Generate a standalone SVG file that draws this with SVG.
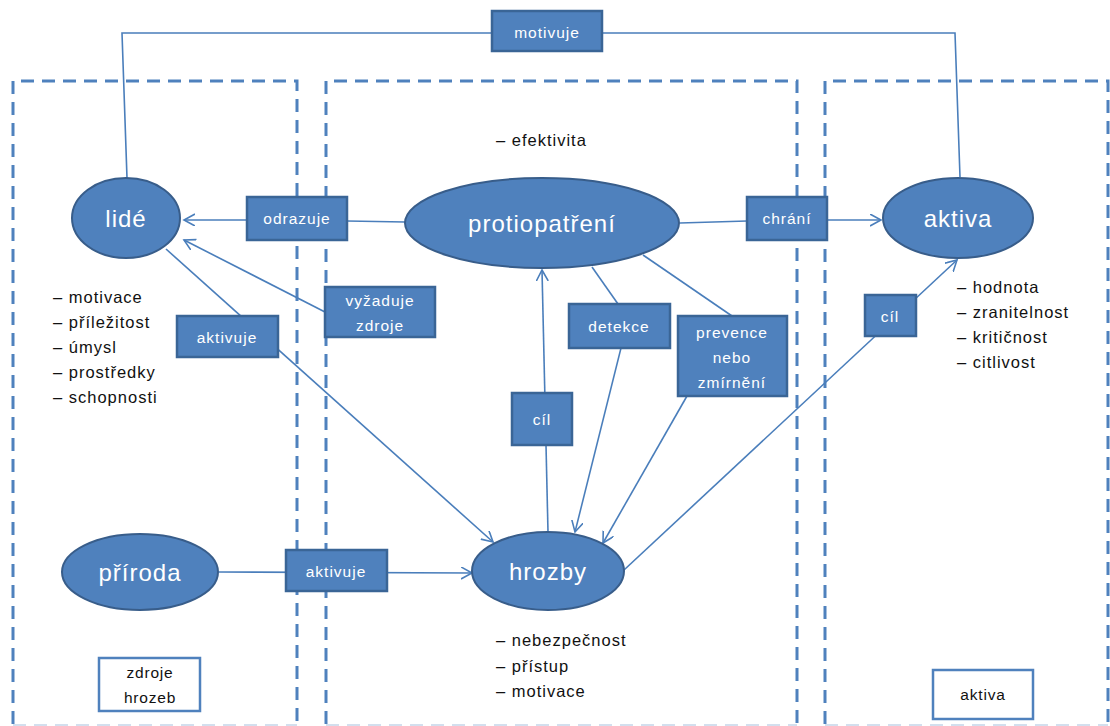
<svg xmlns="http://www.w3.org/2000/svg" width="1110" height="726" viewBox="0 0 1110 726">
<defs>
<style>
.zone{fill:none;stroke:#4f81bd;stroke-width:3;stroke-dasharray:13 8}
.zoneb{fill:none;stroke:#4f81bd;stroke-width:2;stroke-dasharray:13 8;opacity:0.25}
.node{fill:#4f81bd;stroke:#385d8a;stroke-width:2}
.lbl{fill:#4f81bd;stroke:#3a6596;stroke-width:2.5}
.wbox{fill:#fff;stroke:#4f81bd;stroke-width:2.5}
.big{font-family:"Liberation Sans",Arial,sans-serif;font-size:24px;fill:#fff;letter-spacing:1px;text-anchor:middle;dominant-baseline:central}
.lt{font-family:"Liberation Sans",Arial,sans-serif;font-size:15.5px;fill:#fff;letter-spacing:1px;text-anchor:middle;dominant-baseline:central}
.bt{font-family:"Liberation Sans",Arial,sans-serif;font-size:15.5px;fill:#111;letter-spacing:0.8px;text-anchor:middle;dominant-baseline:central}
.li{font-family:"Liberation Sans",Arial,sans-serif;font-size:16.5px;fill:#111;letter-spacing:1px;dominant-baseline:central}
.c{fill:none;stroke:#4a7ebb;stroke-width:1.6}
</style>
<marker id="ah" markerWidth="14" markerHeight="14" refX="11" refY="6" orient="auto" markerUnits="userSpaceOnUse">
<path d="M0,0 L11,6 L0,12" fill="none" stroke="#4a7ebb" stroke-width="1.6"/>
</marker>
</defs>

<g id="zones">
<path class="zone" d="M13,724 V81 H297 V724"/>
<path class="zone" d="M326,724 V81 H797 V724"/>
<path class="zone" d="M825,724 V81 H1108 V724"/>
<path class="zoneb" d="M13,725 H297 M326,725 H797 M825,725 H1108"/>
</g>

<g id="connectors">
<path class="c" d="M127,178 L122,33 L955,33 L960,177"/>
<path class="c" d="M405,222 L347,221"/>
<path class="c" d="M247,220 L184,220" marker-end="url(#ah)"/>
<path class="c" d="M325,312 L184,240" marker-end="url(#ah)"/>
<path class="c" d="M166,249 L493,542" marker-end="url(#ah)"/>
<path class="c" d="M548,532 L542,270" marker-end="url(#ah)"/>
<path class="c" d="M592,267 L618,304"/>
<path class="c" d="M621,348 L575,532" marker-end="url(#ah)"/>
<path class="c" d="M643,255 L732,316"/>
<path class="c" d="M687,396 L603,543" marker-end="url(#ah)"/>
<path class="c" d="M680,223 L747,221"/>
<path class="c" d="M827,220 L881,220" marker-end="url(#ah)"/>
<path class="c" d="M624,570 L957,260" marker-end="url(#ah)"/>
<path class="c" d="M219,572 L472,573" marker-end="url(#ah)"/>
</g>

<g id="lide">
<ellipse class="node" cx="126" cy="218" rx="54" ry="40"/>
<text class="big" x="126" y="218">lidé</text>
</g>
<g id="protiopatreni">
<ellipse class="node" cx="542" cy="223" rx="137" ry="45"/>
<text class="big" x="542" y="223">protiopatření</text>
</g>
<g id="aktiva">
<ellipse class="node" cx="958" cy="218" rx="75" ry="40"/>
<text class="big" x="958" y="218">aktiva</text>
</g>
<g id="priroda">
<ellipse class="node" cx="140" cy="572" rx="78" ry="38"/>
<text class="big" x="140" y="572">příroda</text>
</g>
<g id="hrozby">
<ellipse class="node" cx="548" cy="571" rx="76" ry="39"/>
<text class="big" x="548" y="571">hrozby</text>
</g>

<g id="lbl-motivuje">
<rect class="lbl" x="492" y="11" width="110" height="40"/>
<text class="lt" x="547" y="32">motivuje</text>
</g>
<g id="lbl-odrazuje">
<rect class="lbl" x="247" y="197" width="100" height="43"/>
<text class="lt" x="297" y="218">odrazuje</text>
</g>
<g id="lbl-vyzaduje">
<rect class="lbl" x="325" y="287" width="110" height="50"/>
<text class="lt" x="380" y="300">vyžaduje</text>
<text class="lt" x="380" y="325">zdroje</text>
</g>
<g id="lbl-aktivuje1">
<rect class="lbl" x="177" y="316" width="101" height="41"/>
<text class="lt" x="227" y="337">aktivuje</text>
</g>
<g id="lbl-chrani">
<rect class="lbl" x="747" y="197" width="80" height="43"/>
<text class="lt" x="787" y="218">chrání</text>
</g>
<g id="lbl-detekce">
<rect class="lbl" x="569" y="304" width="101" height="44"/>
<text class="lt" x="619" y="326">detekce</text>
</g>
<g id="lbl-prevence">
<rect class="lbl" x="678" y="316" width="109" height="80"/>
<text class="lt" x="732" y="332">prevence</text>
<text class="lt" x="732" y="357">nebo</text>
<text class="lt" x="732" y="382">zmírnění</text>
</g>
<g id="lbl-cil1">
<rect class="lbl" x="512" y="393" width="60" height="52"/>
<text class="lt" x="542" y="419">cíl</text>
</g>
<g id="lbl-cil2">
<rect class="lbl" x="865" y="295" width="51" height="41"/>
<text class="lt" x="890" y="316">cíl</text>
</g>
<g id="lbl-aktivuje2">
<rect class="lbl" x="286" y="550" width="101" height="41"/>
<text class="lt" x="336" y="571">aktivuje</text>
</g>

<g id="zdroje-hrozeb">
<rect class="wbox" x="99" y="658" width="101" height="53"/>
<text class="bt" x="150" y="672">zdroje</text>
<text class="bt" x="150" y="697">hrozeb</text>
</g>
<g id="aktiva-box">
<rect class="wbox" x="933" y="670" width="100" height="49"/>
<text class="bt" x="983" y="694">aktiva</text>
</g>

<g id="list-efektivita">
<text class="li" x="496" y="140">– efektivita</text>
</g>
<g id="list-lide">
<text class="li" x="53" y="297">– motivace</text>
<text class="li" x="53" y="322">– příležitost</text>
<text class="li" x="53" y="347">– úmysl</text>
<text class="li" x="53" y="372">– prostředky</text>
<text class="li" x="53" y="397">– schopnosti</text>
</g>
<g id="list-aktiva">
<text class="li" x="957" y="287">– hodnota</text>
<text class="li" x="957" y="312">– zranitelnost</text>
<text class="li" x="957" y="337">– kritičnost</text>
<text class="li" x="957" y="362">– citlivost</text>
</g>
<g id="list-hrozby">
<text class="li" x="496" y="640">– nebezpečnost</text>
<text class="li" x="496" y="666">– přístup</text>
<text class="li" x="496" y="691">– motivace</text>
</g>
</svg>
